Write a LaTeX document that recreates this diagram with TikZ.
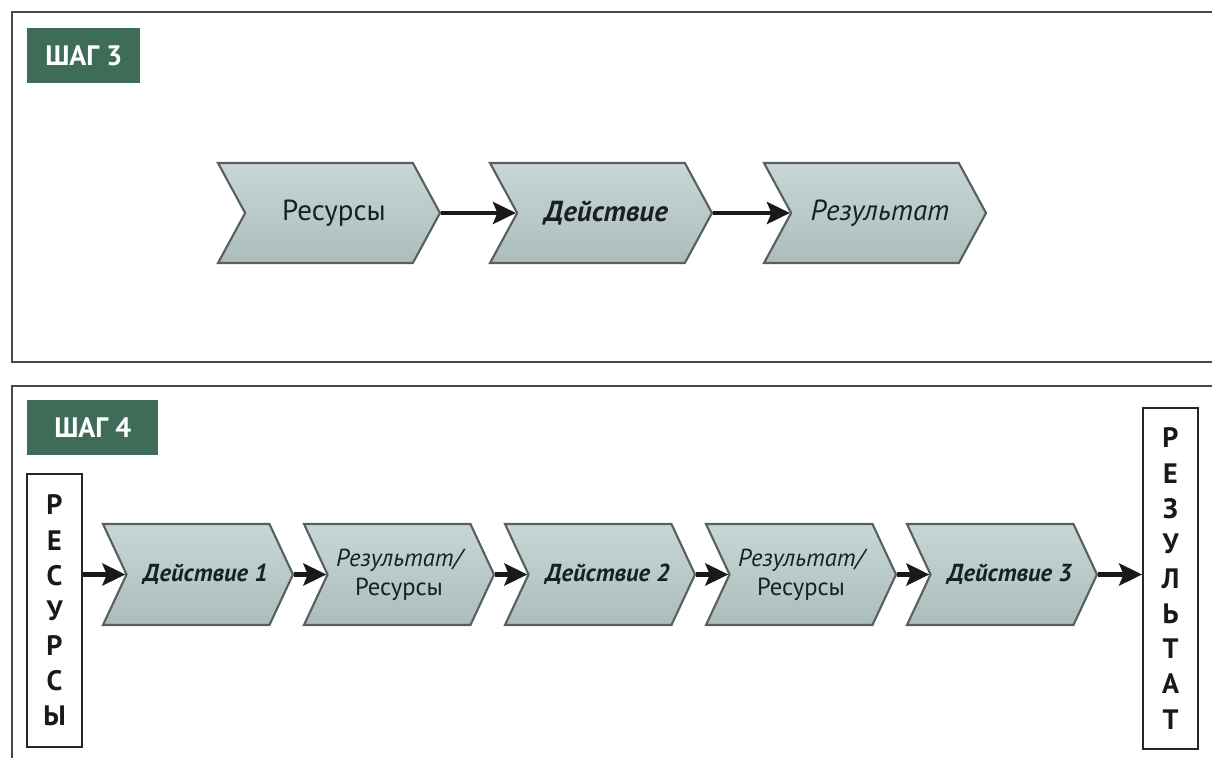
\documentclass[tikz,border=0pt]{standalone}
\usepackage{fontspec}
\setmainfont{PT Sans}
\usepackage{tikz}
\usetikzlibrary{arrows.meta, positioning, shapes.symbols}
\definecolor{stepGreen}{HTML}{3E6C58}
\definecolor{chevFill}{HTML}{BACDCC}
\definecolor{chevEdge}{HTML}{56605E}
\definecolor{frameGray}{HTML}{464948}
\definecolor{inkDark}{HTML}{18211F}

\begin{document}
\begin{tikzpicture}[
  chev/.style={signal, signal from=west, signal to=east, signal pointer angle=123,
               draw=chevEdge, line width=1.2pt, inner sep=0pt,
               top color=chevFill!80!white, bottom color=chevFill!92!black,
               minimum width=4.44cm, minimum height=2cm, text=inkDark,
               font=\fontsize{16.5}{19}\selectfont},
  chevlow/.style={chev, signal pointer angle=130, minimum width=3.8cm,
                  minimum height=2.02cm, align=center,
                  font=\fontsize{14}{16.5}\selectfont},
  tag/.style={fill=stepGreen, text=white, anchor=west, minimum height=1.1cm,
              inner sep=0pt, font=\fontsize{16}{18}\selectfont\bfseries},
  vbox/.style={draw=black!85, line width=1pt, minimum width=1.1cm, inner sep=0pt,
               align=center, text=black!90, font=\fontsize{16}{20}\selectfont\bfseries},
  frame/.style={draw=frameGray, line width=1.7pt},
  a/.style={-{Stealth[length=4.6mm, width=4.4mm, inset=0.9mm]}, line width=2.5pt, draw=black!90}
]
\useasboundingbox (0,0) rectangle (24.24,-15.16);

% panels
\draw[frame] (24.3,-0.24) -- (0.24,-0.24) -- (0.24,-7.24) -- (24.3,-7.24);
\draw[frame] (24.3,-7.72) -- (0.24,-7.72) -- (0.24,-15.3);

% step 3
\node[tag, minimum width=2.26cm] (step3) at (0.54,-1.11) {ШАГ 3};

\node[chev] (res) at (6.58,-4.26) {\hspace*{2mm}Ресурсы};
\node[chev] (act) at (12.02,-4.26) {\hspace*{2mm}\bfseries\itshape Действие};
\node[chev] (out) at (17.5,-4.26) {\hspace*{2mm}\itshape Результат};

\draw[a] (res.east) -- (act.west);
\draw[a] (act.east) -- (out.west);

% step 4
\node[tag, minimum width=2.62cm] (step4) at (0.54,-8.55) {ШАГ 4};

\node[vbox, minimum height=5.46cm] (inres) at (1.09,-12.21) {Р\\Е\\С\\У\\Р\\С\\Ы};
\node[vbox, minimum height=6.82cm] (finres) at (23.41,-11.57) {Р\\Е\\З\\У\\Л\\Ь\\Т\\А\\Т};

\node[chevlow] (d1) at (3.96,-11.49) {\hspace*{3mm}\bfseries\itshape Действие 1};
\node[chevlow] (r1) at (7.98,-11.49) {\itshape Результат/\\Ресурсы};
\node[chevlow] (d2) at (12.0,-11.49) {\hspace*{3mm}\bfseries\itshape Действие 2};
\node[chevlow] (r2) at (16.02,-11.49) {\itshape Результат/\\Ресурсы};
\node[chevlow] (d3) at (20.04,-11.49) {\hspace*{3mm}\bfseries\itshape Действие 3};

\draw[a] (d1.west -| inres.east) -- (d1.west);
\draw[a] (d1.east) -- (r1.west);
\draw[a] (r1.east) -- (d2.west);
\draw[a] (d2.east) -- (r2.west);
\draw[a] (r2.east) -- (d3.west);
\draw[a] (d3.east) -- (d3.east -| finres.west);

\end{tikzpicture}
\end{document}
